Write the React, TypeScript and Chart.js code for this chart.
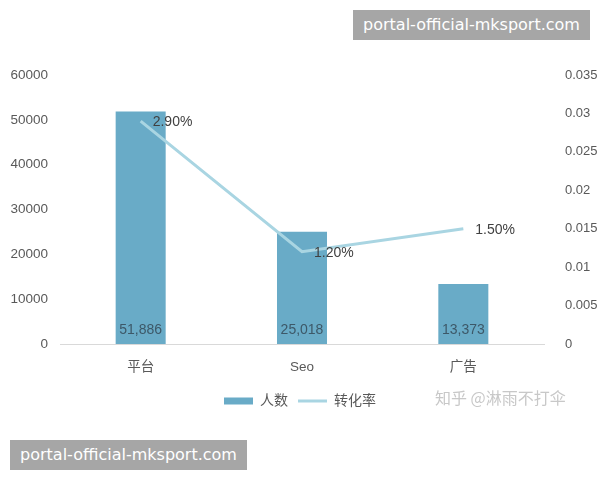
import React, { useEffect, useRef } from "react";
import { Chart, registerables } from "chart.js";

Chart.register(...registerables);

const categories = ["平台", "Seo", "广告"];
const peopleValues = [51886, 25018, 13373];
const rateValues = [0.029, 0.012, 0.015];
const rateLabels = ["2.90%", "1.20%", "1.50%"];
const seriesNames = ["人数", "转化率"];

const BAR_COLOR = "#69abc7";
const LINE_COLOR = "#a9d5e2";
const FONT = '"Liberation Sans", Arial, "Noto Sans CJK SC", sans-serif';

const labelPlugin = {
  id: "valueLabels",
  afterDatasetsDraw(chart: any) {
    const ctx = chart.ctx;
    ctx.save();
    ctx.font = `14px ${FONT}`;
    const barMeta = chart.getDatasetMeta(0);
    ctx.fillStyle = "#3d5868";
    ctx.textAlign = "center";
    ctx.textBaseline = "middle";
    barMeta.data.forEach((el: any, i: number) => {
      ctx.fillText(peopleValues[i].toLocaleString("en-US"), el.x, el.base - 14);
    });
    const lineMeta = chart.getDatasetMeta(1);
    ctx.fillStyle = "#404040";
    ctx.textAlign = "left";
    lineMeta.data.forEach((el: any, i: number) => {
      ctx.fillText(rateLabels[i], el.x + 12, el.y + 1);
    });
    ctx.restore();
  },
};

export default function App() {
  const ref = useRef<HTMLCanvasElement>(null);
  useEffect(() => {
    if (!ref.current) return;
    const chart = new Chart(ref.current, {
      type: "bar",
      data: {
        labels: categories,
        datasets: [
          {
            type: "bar",
            label: seriesNames[0],
            data: peopleValues,
            backgroundColor: BAR_COLOR,
            borderWidth: 0,
            yAxisID: "y",
            order: 1,
            barPercentage: 1,
            categoryPercentage: 0.31,
            pointStyle: "rect",
          } as any,
          {
            type: "line",
            label: seriesNames[1],
            data: rateValues,
            borderColor: LINE_COLOR,
            backgroundColor: LINE_COLOR,
            borderWidth: 3,
            pointRadius: 0,
            pointStyle: "line",
            tension: 0,
            yAxisID: "y1",
            order: 0,
          } as any,
        ],
      },
      options: {
        animation: false,
        responsive: false,
        layout: { padding: { top: 75, bottom: 62, left: 0, right: 0 } },
        plugins: {
          tooltip: { enabled: false },
          legend: {
            position: "bottom",
            labels: {
              usePointStyle: true,
              pointStyleWidth: 29,
              boxHeight: 7,
              padding: 10,
              color: "#595959",
              font: { size: 14, family: FONT },
              sort: (a: any, b: any) => a.datasetIndex - b.datasetIndex,
            },
          },
        },
        scales: {
          x: {
            grid: { display: false },
            border: { display: true, color: "#d9d9d9", width: 1 },
            ticks: { color: "#595959", font: { size: 13.5, family: FONT }, padding: 7 },
            afterFit: (s: any) => {
              s.height = 40;
            },
          },
          y: {
            position: "left",
            min: 0,
            max: 60000,
            grid: { display: false },
            border: { display: false },
            ticks: { stepSize: 10000, color: "#595959", font: { size: 13.5, family: FONT }, padding: 4, callback: (v: any) => String(v) },
            afterFit: (s: any) => {
              s.width = 60;
            },
          },
          y1: {
            position: "right",
            min: 0,
            max: 0.035,
            grid: { display: false },
            border: { display: false },
            ticks: { stepSize: 0.005, color: "#595959", font: { size: 13, family: FONT }, padding: 13, callback: (v: any) => String(Math.round(v * 1000) / 1000) },
            afterFit: (s: any) => {
              s.width = 56;
            },
          },
        },
      },
      plugins: [labelPlugin],
    });
    return () => chart.destroy();
  }, []);

  const boxStyle: React.CSSProperties = {
    position: "absolute",
    background: "#a6a6a6",
    color: "#ffffff",
    fontFamily: '"DejaVu Sans", sans-serif',
    fontSize: 16,
    height: 30,
    lineHeight: "30px",
    textAlign: "center",
    whiteSpace: "nowrap",
  };

  return (
    <div style={{ position: "fixed", left: 0, top: 0, width: 600, height: 480, background: "#fff", overflow: "hidden" }}>
      <canvas ref={ref} width={600} height={480} style={{ position: "absolute", left: 0, top: 0, width: 600, height: 480 }} />
      <div style={{ ...boxStyle, left: 353, top: 10, width: 237 }}>portal-official-mksport.com</div>
      <div style={{ ...boxStyle, left: 10, top: 440, width: 237 }}>portal-official-mksport.com</div>
      <div
        style={{
          position: "absolute",
          left: 435,
          top: 387,
          fontFamily: '"Noto Sans CJK SC", sans-serif',
          fontSize: 16,
          lineHeight: "20px",
          color: "#c8c8c8",
          whiteSpace: "nowrap",
        }}
      >
        知乎 @淋雨不打伞
      </div>
    </div>
  );
}
